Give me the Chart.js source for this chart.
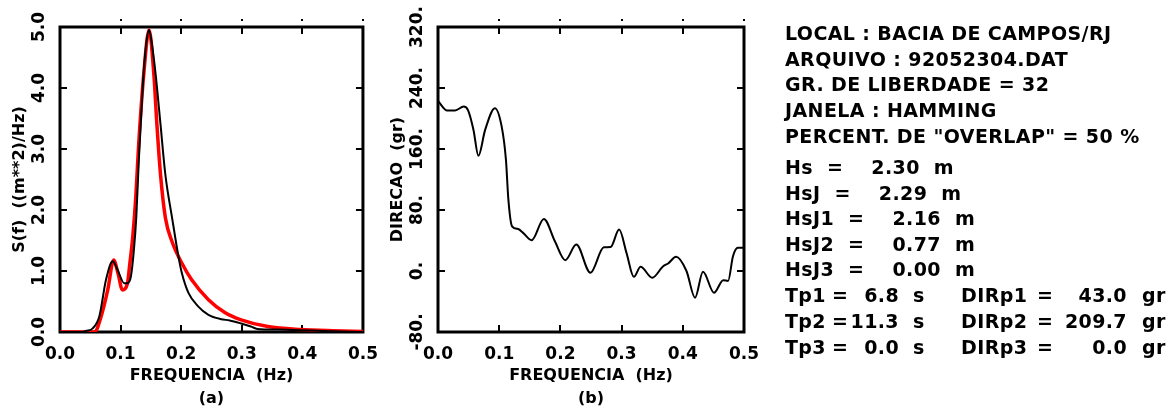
<!DOCTYPE html>
<html>
<head>
<meta charset="utf-8">
<script src="https://cdn.jsdelivr.net/npm/chart.js@4.4.1/dist/chart.umd.min.js"></script>
<style>
  html, body { margin: 0; padding: 0; background: #fff; }
  body { width: 1170px; height: 411px; position: relative; overflow: hidden; }
  canvas { position: absolute; top: 0; }
  #specCanvas { left: 0; }
  #dirCanvas { left: 378px; }
  #panel { position: absolute; left: 785px; top: 0; width: 385px; height: 411px;
           font: bold 19px "DejaVu Sans", sans-serif; color: #000; letter-spacing: 0.4px; }
  #panel .row { position: absolute; left: 0; white-space: pre; line-height: 20px; }
  #panel .cell { position: absolute; top: 0; }
  #panel .num { position: absolute; top: 0; left: 0; text-align: right; }
</style>
</head>
<body>
<canvas id="specCanvas" width="390" height="411"></canvas>
<canvas id="dirCanvas" width="400" height="411"></canvas>
<div id="panel"></div>
<script>
// (a) spectrum: measured (black) and fitted (red)
const freqMeasured = [0, 0.035, 0.0435, 0.054, 0.065, 0.076, 0.087, 0.095, 0.106, 0.111, 0.117, 0.122, 0.126, 0.130, 0.137, 0.142, 0.147, 0.152, 0.158, 0.166, 0.174, 0.185, 0.196, 0.201, 0.212, 0.228, 0.245, 0.266, 0.280, 0.299, 0.315, 0.326, 0.359, 0.397, 0.435, 0.5];
const specMeasured = [0, 0, 0.02, 0.06, 0.26, 0.86, 1.16, 1.02, 0.80, 0.80, 0.91, 1.35, 1.9, 2.8, 4.1, 4.7, 4.95, 4.7, 4.21, 3.39, 2.57, 1.87, 1.21, 0.97, 0.64, 0.42, 0.28, 0.21, 0.19, 0.14, 0.09, 0.05, 0.04, 0.03, 0.015, 0];
const freqFit = [0, 0.057, 0.068, 0.0788, 0.0886, 0.096, 0.103, 0.1114, 0.115, 0.120, 0.125, 0.130, 0.138, 0.147, 0.155, 0.160, 0.166, 0.174, 0.185, 0.201, 0.217, 0.245, 0.272, 0.299, 0.343, 0.397, 0.45, 0.5];
const specFit = [0, 0, 0.26, 0.69, 1.18, 0.95, 0.69, 0.80, 1.1, 1.55, 2.2, 3.1, 4.2, 4.95, 4.21, 3.39, 2.57, 1.87, 1.48, 1.13, 0.86, 0.53, 0.32, 0.20, 0.09, 0.04, 0.02, 0.01];

// (b) mean direction
const freqDir = [0, 0.015, 0.028, 0.042, 0.049, 0.058, 0.066, 0.077, 0.093, 0.104, 0.111, 0.115, 0.121, 0.131, 0.139, 0.153, 0.173, 0.191, 0.208, 0.226, 0.249, 0.271, 0.282, 0.296, 0.308, 0.32, 0.331, 0.35, 0.368, 0.376, 0.389, 0.406, 0.42, 0.433, 0.451, 0.466, 0.474, 0.482, 0.49, 0.5];
const direction = [223, 210.5, 210.5, 215.7, 211, 185, 151, 185, 213.6, 189.6, 146, 93.6, 58.6, 55, 50, 40.4, 68.3, 39, 14.2, 34.7, -2.4, 31, 31.4, 54.3, 23.8, -7.6, 5.5, -8.9, 6.3, 9.8, 18.6, 0, -35, -1, -28.5, -12, -13, 19.4, 30.4, 30.4];

// info panel
const headerLines = ['LOCAL : BACIA DE CAMPOS/RJ', 'ARQUIVO : 92052304.DAT', 'GR. DE LIBERDADE = 32', 'JANELA : HAMMING', 'PERCENT. DE "OVERLAP" = 50 %'];
const heightNames = ['Hs', 'HsJ', 'HsJ1', 'HsJ2', 'HsJ3'];
const heightValues = [2.30, 2.29, 2.16, 0.77, 0.00];
const periodNames = ['Tp1', 'Tp2', 'Tp3'];
const periodValues = [6.8, 11.3, 0.0];
const dirNames = ['DIRp1', 'DIRp2', 'DIRp3'];
const dirValues = [43.0, 209.7, 0.0];

const FONT = '"DejaVu Sans", sans-serif';

const framePlugin = {
  id: 'frame',
  beforeDatasetsDraw(chart) {
    const { ctx, chartArea: a, scales: { x, y } } = chart;
    ctx.save();
    ctx.strokeStyle = '#000';
    ctx.fillStyle = '#000';
    ctx.lineWidth = 2;
    ctx.beginPath();
    x.ticks.forEach((t) => {
      const px = Math.round(x.getPixelForValue(t.value));
      ctx.moveTo(px, a.bottom); ctx.lineTo(px, a.bottom - 7);
      ctx.moveTo(px, a.top); ctx.lineTo(px, a.top + 7);
      if (t.value > 0.05) ctx.fillRect(px - 1, a.top - 8, 2, 2);
    });
    y.ticks.forEach((t) => {
      const py = Math.round(y.getPixelForValue(t.value));
      ctx.moveTo(a.left, py); ctx.lineTo(a.left + 7, py);
      ctx.moveTo(a.right, py); ctx.lineTo(a.right - 7, py);
    });
    ctx.stroke();
    ctx.lineWidth = 3;
    ctx.strokeRect(a.left, a.top, a.right - a.left, a.bottom - a.top);
    ctx.restore();
  }
};

function makeChart(id, datasets, opts) {
  return new Chart(document.getElementById(id), {
    type: 'line',
    data: { datasets },
    options: {
      responsive: false,
      animation: false,
      layout: { padding: { left: 0, right: opts.padRight, top: 27, bottom: 0 } },
      plugins: { legend: { display: false }, tooltip: { enabled: false } },
      elements: { point: { radius: 0 } },
      scales: {
        x: {
          type: 'linear', min: 0, max: 0.5,
          grid: { display: false, drawTicks: false },
          border: { display: false },
          ticks: {
            stepSize: 0.1, autoSkip: false, maxRotation: 0, padding: 12,
            color: '#000', font: { family: FONT, size: 17, weight: 'bold' },
            callback: (v) => v.toFixed(1)
          },
          title: {
            display: true, text: opts.xTitle, color: '#000',
            font: { family: FONT, size: 16, weight: 'bold', lineHeight: '23px' },
            padding: { top: 0, bottom: 1 }
          },
          afterFit(s) { s.height = 79; }
        },
        y: {
          min: opts.yMin, max: opts.yMax,
          grid: { display: false, drawTicks: false },
          border: { display: false },
          ticks: {
            stepSize: opts.yStep, autoSkip: false, minRotation: 90, maxRotation: 90,
            crossAlign: 'center', padding: opts.yPad,
            color: '#000', font: { family: FONT, size: 17, weight: 'bold' },
            callback: opts.yFormat
          },
          title: {
            display: true, text: opts.yTitle, color: '#000',
            font: { family: FONT, size: 16, weight: 'bold' },
            padding: { top: 10, bottom: 0 }
          },
          afterFit(s) { s.width = 60; }
        }
      }
    },
    plugins: [framePlugin]
  });
}

const toXY = (xs, ys) => xs.map((f, i) => ({ x: f, y: ys[i] }));

makeChart('specCanvas', [
  { data: toXY(freqMeasured, specMeasured), borderColor: '#000', borderWidth: 2, cubicInterpolationMode: 'monotone' },
  { data: toXY(freqFit, specFit), borderColor: '#ff0000', borderWidth: 3.5, cubicInterpolationMode: 'monotone' }
], {
  padRight: 23, yMin: 0, yMax: 5, yStep: 1, yPad: 5,
  yFormat: (v) => v.toFixed(1),
  yTitle: 'S(f)  ((m**2)/Hz)', xTitle: ['FREQUENCIA  (Hz)', '(a)']
});

makeChart('dirCanvas', [
  { data: toXY(freqDir, direction), borderColor: '#000', borderWidth: 2, cubicInterpolationMode: 'monotone' }
], {
  padRight: 34, yMin: -80, yMax: 320, yStep: 80, yPad: -1,
  yFormat: (v) => v + '.',
  yTitle: 'DIRECAO  (gr)', xTitle: ['FREQUENCIA  (Hz)', '(b)']
});

// text panel
const panel = document.getElementById('panel');
const rowCenters = [32, 58, 83, 109, 135, 166, 192, 217, 243, 268, 294, 320, 346];
let r = 0;
function addRow(html) {
  const d = document.createElement('div');
  d.className = 'row';
  d.style.top = (rowCenters[r++] - 9) + 'px';
  d.innerHTML = html;
  panel.appendChild(d);
  return d;
}
headerLines.forEach((t) => addRow(t.replace(/&/g, '&amp;').replace(/</g, '&lt;')));
heightNames.forEach((n, i) => {
  addRow(`<span>${n}</span><span style="margin-left:14px">=</span>` +
    `<span style="margin-left:28px">${heightValues[i].toFixed(2)}</span><span style="margin-left:14px">m</span>`);
});
periodNames.forEach((n, i) => {
  addRow(`<span class="cell" style="left:0">${n}</span>` +
    `<span class="cell" style="left:47px">=</span>` +
    `<span class="num" style="width:114px">${periodValues[i].toFixed(1)}</span>` +
    `<span class="cell" style="left:128px">s</span>` +
    `<span class="cell" style="left:176px">${dirNames[i]}</span>` +
    `<span class="cell" style="left:252px">=</span>` +
    `<span class="num" style="width:342px">${dirValues[i].toFixed(1)}</span>` +
    `<span class="cell" style="left:357px">gr</span>`);
});
</script>
</body>
</html>
